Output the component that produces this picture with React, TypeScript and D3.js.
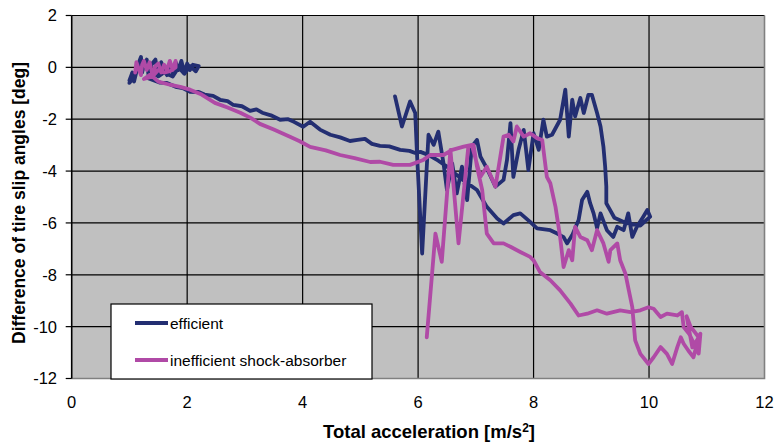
import React from "react";
import * as d3 from "d3";

// tick values
const xTicks = [0, 2, 4, 6, 8, 10, 12];
const yTicks = [2, 0, -2, -4, -6, -8, -10, -12];

const seriesNames = ["efficient", "inefficient shock-absorber"];
const seriesColors = ["#232E72", "#B04AA6"];

// [total acceleration, slip angle difference]
const efficient: [number, number][] = [
  [1.0, -0.5], [1.05, -0.2], [1.0, -0.6], [1.1, -0.3], [1.08, -0.55], [1.15, 0.1], [1.2, 0.4],
  [1.22, -0.2], [1.25, 0.1], [1.3, 0.3], [1.33, -0.3], [1.38, 0.1], [1.45, 0.3], [1.48, -0.1],
  [1.5, -0.3], [1.55, 0.2], [1.6, -0.1], [1.65, -0.3], [1.7, 0.1], [1.75, -0.2], [1.8, 0.2],
  [1.85, -0.1], [1.9, 0.25], [1.95, -0.2], [2.0, 0.15], [2.05, -0.1], [2.1, 0.1], [2.2, 0.05],
  [2.15, -0.15], [2.05, 0.05], [1.95, -0.25], [1.85, 0.0], [1.75, -0.35], [1.6, -0.2],
  [1.5, -0.35], [1.4, -0.2], [1.3, -0.4],
  [1.53, -0.59], [1.65, -0.6], [1.8, -0.75], [1.92, -0.8], [2.05, -0.94], [2.2, -0.95],
  [2.3, -1.05], [2.45, -1.1], [2.57, -1.25], [2.7, -1.3], [2.8, -1.45], [2.95, -1.5],
  [3.09, -1.68], [3.2, -1.62], [3.3, -1.75], [3.45, -1.85], [3.61, -2.02], [3.75, -2.0],
  [3.85, -2.1], [4.01, -2.29], [4.13, -2.1], [4.3, -2.4], [4.48, -2.6], [4.65, -2.7],
  [4.82, -2.84], [4.95, -2.8], [5.08, -2.76], [5.2, -2.95], [5.34, -3.03], [5.5, -3.05],
  [5.69, -3.18], [5.85, -3.22], [5.95, -3.3], [6.04, -3.26],
  [6.2, -3.4], [6.35, -3.6], [6.5, -3.83], [6.75, -4.3], [7.02, -4.73], [7.19, -5.38],
  [7.37, -5.83], [7.48, -6.02], [7.65, -5.7], [7.77, -5.63], [7.94, -5.96], [8.06, -6.21],
  [8.29, -6.28], [8.41, -6.41], [8.52, -6.55], [8.58, -6.79], [8.67, -6.47], [8.78, -5.89],
  [8.84, -5.12], [8.93, -4.8], [8.98, -5.24], [9.04, -5.63], [9.1, -6.2], [9.16, -5.63],
  [9.27, -6.28], [9.38, -6.54], [9.45, -6.15], [9.56, -6.28], [9.64, -5.63], [9.71, -6.54],
  [9.79, -6.15], [9.9, -5.76], [9.97, -5.5], [10.02, -5.76],
  [9.85, -6.1], [9.6, -6.0], [9.4, -5.8], [9.3, -5.4], [9.26, -5.24], [9.26, -4.6],
  [9.24, -3.83], [9.21, -3.06], [9.16, -2.28], [9.1, -1.76], [9.01, -1.06], [8.95, -1.06],
  [8.87, -1.76], [8.81, -1.18], [8.72, -1.89], [8.67, -1.25], [8.61, -2.67], [8.55, -0.86],
  [8.46, -2.02], [8.32, -2.6], [8.23, -2.67], [8.17, -2.02], [8.09, -3.18], [8.0, -2.54],
  [7.91, -3.96], [7.83, -2.41], [7.74, -3.18], [7.65, -4.22], [7.6, -2.15], [7.54, -3.57],
  [7.48, -4.34], [7.34, -4.6], [7.19, -3.89], [7.08, -3.44], [7.02, -2.8], [6.93, -3.06],
  [6.85, -5.12], [6.76, -3.83], [6.67, -4.86], [6.59, -3.7], [6.5, -4.73], [6.44, -3.7],
  [6.35, -2.48], [6.27, -2.99], [6.18, -2.6], [6.07, -7.18], [5.98, -3.31], [5.95, -1.76],
  [5.86, -1.32], [5.72, -2.28], [5.6, -1.12],
];

const inefficient: [number, number][] = [
  [1.1, -0.2], [1.12, 0.2], [1.2, -0.3], [1.22, 0.1], [1.25, 0.25], [1.3, -0.1], [1.35, 0.2],
  [1.4, -0.3], [1.45, 0.05], [1.5, 0.15], [1.55, -0.2], [1.6, 0.1], [1.65, -0.1], [1.7, 0.25],
  [1.75, -0.1], [1.8, 0.25], [1.8, 0.0], [1.7, -0.15], [1.6, -0.2], [1.5, -0.1], [1.4, -0.35],
  [1.25, -0.45], [1.36, -0.28],
  [1.5, -0.55], [1.7, -0.67], [1.88, -0.75], [2.05, -0.86], [2.25, -1.05], [2.48, -1.37],
  [2.7, -1.55], [2.92, -1.75], [3.1, -1.95], [3.26, -2.18], [3.5, -2.4], [3.78, -2.68],
  [3.95, -2.85], [4.13, -3.07], [4.4, -3.2], [4.65, -3.38], [4.9, -3.5], [5.17, -3.65],
  [5.34, -3.64], [5.57, -3.76], [5.86, -3.76], [6.09, -3.57], [6.21, -3.38], [6.44, -3.38],
  [6.59, -3.18], [6.79, -3.06], [6.93, -2.99],
  [7.08, -4.22], [7.19, -3.83], [7.34, -4.6], [7.42, -3.5], [7.48, -2.67], [7.57, -2.6],
  [7.65, -2.86], [7.71, -2.28], [7.83, -2.67], [7.94, -2.54], [8.06, -2.73], [8.15, -2.8],
  [8.23, -4.22], [8.29, -4.47], [8.38, -5.38], [8.46, -6.54], [8.52, -7.7], [8.61, -7.05],
  [8.67, -7.44], [8.72, -6.15], [8.81, -6.54], [8.93, -6.67], [9.01, -7.05], [9.1, -6.28],
  [9.21, -6.79], [9.3, -7.5], [9.33, -7.05], [9.45, -6.79], [9.5, -7.44], [9.59, -7.95],
  [9.65, -8.6], [9.71, -9.25], [9.76, -10.53], [9.85, -11.05], [9.99, -11.44], [10.08, -11.18],
  [10.2, -10.79], [10.31, -11.05], [10.4, -11.44], [10.49, -10.79], [10.55, -10.41],
  [10.6, -10.66], [10.68, -10.92], [10.77, -11.18], [10.86, -10.41],
  [10.72, -10.0], [10.65, -9.6], [10.75, -10.8], [10.83, -10.53], [10.89, -10.27],
  [10.86, -11.04], [10.7, -10.3], [10.6, -10.02], [10.57, -9.44],
  [10.49, -9.57], [10.31, -9.5], [10.2, -9.63], [10.08, -9.31], [9.99, -9.25], [9.85, -9.37],
  [9.68, -9.44], [9.5, -9.37], [9.27, -9.5], [9.1, -9.37], [8.93, -9.5], [8.78, -9.57],
  [8.64, -9.11], [8.46, -8.6], [8.29, -8.21], [8.11, -7.89], [8.0, -7.44], [7.94, -7.31],
  [7.77, -7.12], [7.6, -6.92], [7.48, -6.79], [7.31, -6.79], [7.19, -6.41], [7.11, -4.73],
  [7.02, -3.83], [6.96, -2.99],
  [6.87, -3.06], [6.7, -6.79], [6.56, -3.18], [6.41, -7.5], [6.3, -6.41], [6.15, -10.41],
];

const W = 775;
const H = 445;
const font = "'Liberation Sans', Arial, sans-serif";

export default function App() {
  const x = d3.scaleLinear().domain([0, 12]).range([71.7, 764.5]);
  const y = d3.scaleLinear().domain([-12, 2]).range([378.5, 15.5]);

  const line = d3
    .line<[number, number]>()
    .x((d) => x(d[0]))
    .y((d) => y(d[1]));

  const series = [efficient, inefficient];
  const [x0, x1] = x.range();
  const [yb, yt] = y.range();

  return (
    <svg
      width={W}
      height={H}
      style={{ position: "absolute", left: 0, top: 0, background: "#fff" }}
      fontFamily={font}
    >
      <rect x={x0} y={yt} width={x1 - x0} height={yb - yt} fill="#C0C0C0" />

      {/* grid */}
      {yTicks.filter((t) => t > -12).map((t) => (
        <line key={"gy" + t} x1={x0} x2={x1} y1={y(t)} y2={y(t)} stroke="#000" strokeWidth={1.2} />
      ))}
      {xTicks.filter((t) => t > 0 && t < 12).map((t) => (
        <line key={"gx" + t} x1={x(t)} x2={x(t)} y1={yt} y2={yb} stroke="#000" strokeWidth={1.2} />
      ))}

      {/* plot border */}
      <path d={`M${x0},${yb}H${x1}V${yt}`} fill="none" stroke="#808080" strokeWidth={1.6} />
      <line x1={x0} x2={x0} y1={yt} y2={yb} stroke="#000" strokeWidth={1.6} />

      {/* y axis */}
      {yTicks.map((t) => (
        <g key={"ty" + t}>
          <line x1={x0 - 6} x2={x0} y1={y(t)} y2={y(t)} stroke="#000" strokeWidth={1.2} />
          <text x={57} y={y(t)} dy="0.36em" textAnchor="end" fontSize={16.5} fill="#000">
            {t}
          </text>
        </g>
      ))}

      {/* x axis labels */}
      {xTicks.map((t) => (
        <text key={"tx" + t} x={x(t)} y={408} textAnchor="middle" fontSize={16.5} fill="#000">
          {t}
        </text>
      ))}

      {/* series */}
      {series.map((s, i) => (
        <path
          key={seriesNames[i]}
          d={line(s) ?? ""}
          fill="none"
          stroke={seriesColors[i]}
          strokeWidth={3.8}
          strokeLinejoin="round"
          strokeLinecap="round"
        />
      ))}

      {/* legend */}
      <rect x={111} y={304} width={261} height={75} fill="#fff" stroke="#000" strokeWidth={1.2} />
      {seriesNames.map((n, i) => (
        <g key={"lg" + n}>
          <line
            x1={135}
            x2={168}
            y1={323 + i * 37}
            y2={323 + i * 37}
            stroke={seriesColors[i]}
            strokeWidth={3.8}
          />
          <text x={170} y={323 + i * 37} dy="0.36em" fontSize={15.5} fill="#000">
            {n}
          </text>
        </g>
      ))}

      {/* axis titles */}
      <text x={429} y={438} textAnchor="middle" fontSize={18.5} fontWeight="bold" fill="#000">
        Total acceleration [m/s<tspan fontSize={12} dy={-6}>2</tspan><tspan dy={6}>]</tspan>
      </text>
      <text
        transform="translate(25,203) rotate(-90)"
        textAnchor="middle"
        fontSize={17.5}
        fontWeight="bold"
        fill="#000"
      >
        Difference of tire slip angles [deg]
      </text>
    </svg>
  );
}
